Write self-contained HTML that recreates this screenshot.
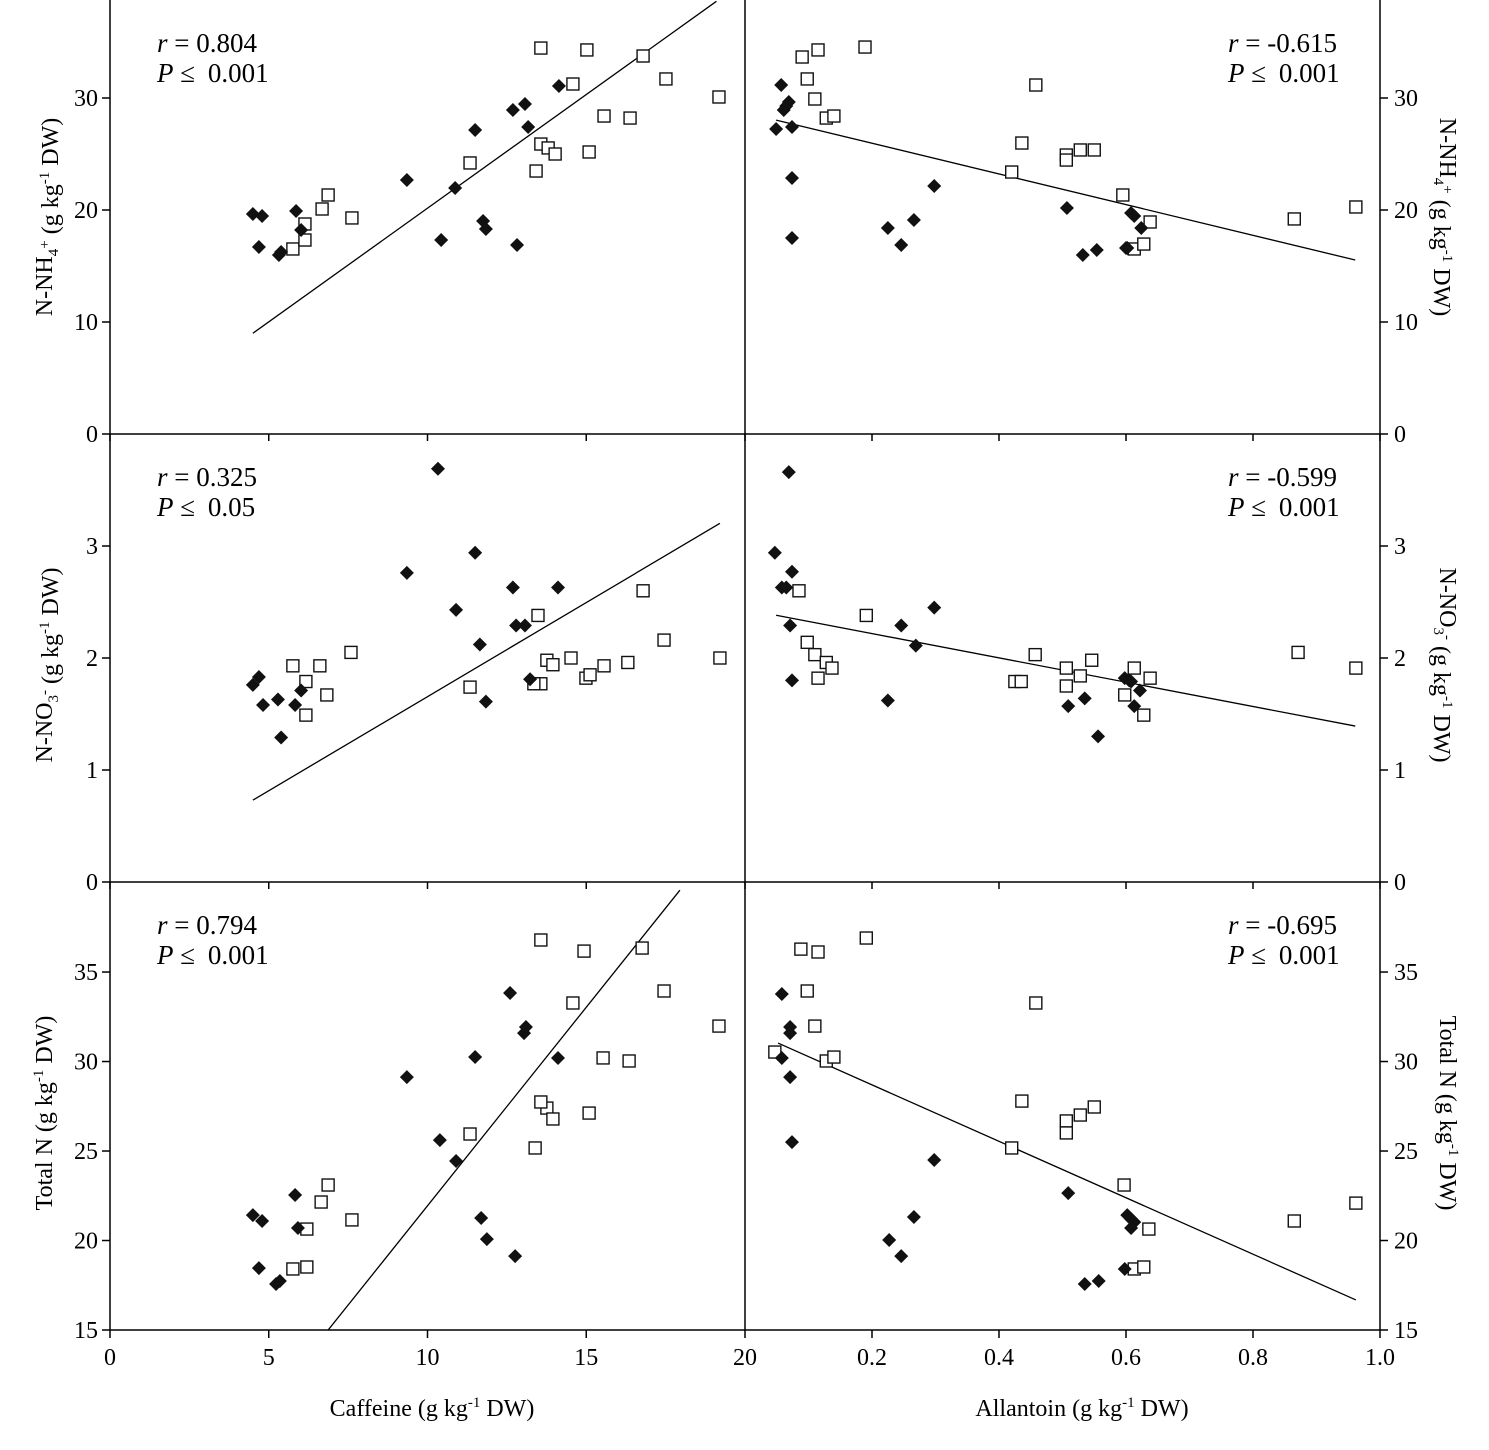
<!DOCTYPE html>
<html><head><meta charset="utf-8"><style>
html,body{margin:0;padding:0;background:#fff;}
svg{display:block;font-family:"Liberation Serif",serif;}
</style></head><body>
<svg id="c" width="1489" height="1450" viewBox="0 0 1489 1450" xmlns="http://www.w3.org/2000/svg"></svg>
<script>
// ---- data ----
const nh4CafDiamX=[4.50,4.79,4.69,5.86,6.02,5.32,5.39,9.35,10.43,10.87,11.50,11.75,11.84,12.69,12.82,13.07,13.17,14.14];
const nh4CafDiamY=[19.64,19.46,16.70,19.91,18.21,15.98,16.25,22.68,17.32,21.96,27.14,19.02,18.30,28.93,16.88,29.46,27.41,31.07];
const nh4CafSqX=[5.76,6.14,6.14,6.68,6.87,7.62,11.34,13.42,13.57,13.80,14.02,14.58,15.09,15.02,15.56,16.38,16.79,17.51,19.18,13.57];
const nh4CafSqY=[16.52,17.32,18.75,20.09,21.34,19.29,24.20,23.48,25.89,25.54,25.00,31.25,25.18,34.29,28.39,28.21,33.75,31.70,30.09,34.46];
const nh4AllDiamX=[.049,.057,.061,.065,.069,.074,.074,.074,.225,.246,.266,.298,.507,.532,.554,.600,.608,.613,.624,.602];
const nh4AllDiamY=[27.23,31.16,28.93,29.29,29.64,27.41,22.86,17.50,18.39,16.88,19.11,22.14,20.18,15.98,16.43,16.61,19.73,19.46,18.39,16.61];
const nh4AllSqX=[.090,.098,.115,.110,.128,.140,.189,.420,.436,.458,.506,.506,.528,.550,.595,.613,.628,.638,.865,.962];
const nh4AllSqY=[33.66,31.70,34.29,29.91,28.21,28.39,34.55,23.39,25.98,31.16,24.91,24.46,25.36,25.36,21.34,16.52,16.96,18.93,19.20,20.27];

const no3CafDiamX=[4.50,4.69,4.82,5.29,5.39,5.83,6.02,9.35,10.33,10.90,11.50,11.65,11.84,12.69,12.79,13.07,13.23,14.11];
const no3CafDiamY=[1.76,1.83,1.58,1.63,1.29,1.58,1.71,2.76,3.69,2.43,2.94,2.12,1.61,2.63,2.29,2.29,1.81,2.63];
const no3CafSqX=[5.76,6.17,6.17,6.61,6.83,7.59,11.34,13.48,13.57,13.76,13.95,14.52,14.99,15.12,15.56,16.31,16.79,17.45,19.21,13.35];
const no3CafSqY=[1.93,1.79,1.49,1.93,1.67,2.05,1.74,2.38,1.77,1.98,1.94,2.00,1.82,1.85,1.93,1.96,2.60,2.16,2.00,1.77];
const no3AllDiamX=[.047,.058,.065,.069,.071,.074,.074,.225,.246,.269,.298,.509,.535,.556,.598,.608,.613,.622,.605];
const no3AllDiamY=[2.94,2.63,2.63,3.66,2.29,2.77,1.80,1.62,2.29,2.11,2.45,1.57,1.64,1.30,1.82,1.79,1.57,1.71,1.80];
const no3AllSqX=[.085,.098,.110,.115,.128,.137,.191,.425,.435,.457,.506,.506,.528,.546,.598,.613,.628,.638,.871,.962];
const no3AllSqY=[2.60,2.14,2.03,1.82,1.96,1.91,2.38,1.79,1.79,2.03,1.91,1.75,1.84,1.98,1.67,1.91,1.49,1.82,2.05,1.91];

const totCafDiamX=[4.50,4.79,4.69,5.23,5.35,5.83,5.92,9.35,10.39,10.90,11.50,11.69,11.87,12.60,12.76,13.04,13.10,14.11];
const totCafDiamY=[21.42,21.09,18.46,17.57,17.74,22.54,20.70,29.13,25.61,24.44,30.25,21.26,20.08,33.83,19.13,31.59,31.93,30.20];
const totCafSqX=[5.76,6.20,6.20,6.65,6.87,7.62,11.34,13.39,13.57,13.76,13.95,14.58,14.93,15.09,15.53,16.35,16.76,17.45,19.18,13.57];
const totCafSqY=[18.41,18.52,20.64,22.15,23.10,21.15,25.95,25.17,36.79,27.40,26.79,33.27,36.17,27.12,30.20,30.03,36.34,33.94,31.98,27.74];
const totAllDiamX=[.058,.058,.071,.071,.071,.074,.227,.246,.266,.298,.509,.535,.557,.598,.602,.608,.613,.608];
const totAllDiamY=[33.77,30.20,31.93,31.59,29.13,25.50,20.03,19.13,21.31,24.50,22.65,17.57,17.74,18.41,21.42,21.20,21.03,20.70];
const totAllSqX=[.047,.088,.098,.115,.110,.128,.140,.191,.420,.436,.458,.506,.506,.528,.550,.597,.613,.628,.636,.865,.962];
const totAllSqY=[30.53,36.28,33.94,36.12,31.98,30.03,30.25,36.90,25.17,27.79,33.27,26.68,26.01,27.01,27.46,23.10,18.41,18.52,20.64,21.09,22.09];

// regression: [xStart, xEnd, slope, intercept]
const fitNh4Caf=[4.5,19.1,2.03,-0.14];
const fitNh4All=[0.049,0.961,-13.7,28.7];
const fitNo3Caf=[4.5,19.21,0.168,-0.025];
const fitNo3All=[0.049,0.961,-1.085,2.435];
const fitTotCaf=[6.87,17.95,2.218,-0.24];
const fitTotAll=[0.052,0.962,-15.77,31.85];

const stats=[["0.804","0.001"],["0.325","0.05"],["0.794","0.001"],["-0.615","0.001"],["-0.599","0.001"],["-0.695","0.001"]];
const ticksCaf=[0,5,10,15,20];
const ticksAll=[0.2,0.4,0.6,0.8,1.0];
const ticksNh4=[0,10,20,30];
const ticksNo3=[0,1,2,3];
const ticksTot=[15,20,25,30,35];

// ---- drawing ----
const S="http://www.w3.org/2000/svg";
const svg=document.getElementById('c');
function mk(t,a,p){const e=document.createElementNS(S,t);for(const k in a)e.setAttribute(k,a[k]);(p||svg).appendChild(e);return e;}
const L0=110,L1=745,R1=1380;
const rows=[{top:0,bot:434,y0:0,y1:38.75},{top:434,bot:882,y0:0,y1:4.0},{top:882,bot:1330,y0:15,y1:40.03}];
const cols=[{x0px:L0,x1px:L1,x0:0,x1:20},{x0px:L1,x1px:R1,x0:0,x1:1.0}];
function sx(c,v){return c.x0px+(v-c.x0)/(c.x1-c.x0)*(c.x1px-c.x0px);}
function sy(r,v){return r.bot-(v-r.y0)/(r.y1-r.y0)*(r.bot-r.top);}

const defs=mk('defs',{});
const cp=mk('clipPath',{id:'clipall'},defs);mk('rect',{x:L0,y:0,width:R1-L0,height:1330},cp);

const axes=mk('g',{stroke:'#000','stroke-width':1.5,fill:'none'});


mk('line',{x1:L0,y1:0,x2:L0,y2:1330},axes);
mk('line',{x1:L1,y1:0,x2:L1,y2:1330},axes);
mk('line',{x1:R1,y1:0,x2:R1,y2:1330},axes);
rows.forEach(r=>mk('line',{x1:L0,y1:r.bot,x2:R1,y2:r.bot},axes));

ticksCaf.forEach(t=>{const x=sx(cols[0],t);mk('line',{x1:x,y1:1330,x2:x,y2:1338},axes);
 rows.slice(0,2).forEach(r=>mk('line',{x1:x,y1:r.bot,x2:x,y2:r.bot+7},axes));
 const tx=mk('text',{x:x,y:1365,'font-size':24,'text-anchor':'middle'});tx.textContent=t;
 });
ticksAll.forEach(t=>{const x=sx(cols[1],t);mk('line',{x1:x,y1:1330,x2:x,y2:1338},axes);
 rows.slice(0,2).forEach(r=>mk('line',{x1:x,y1:r.bot,x2:x,y2:r.bot+7},axes));
 const tx=mk('text',{x:x,y:1365,'font-size':24,'text-anchor':'middle'});tx.textContent=t.toFixed(1);
 });

[ticksNh4,ticksNo3,ticksTot].forEach((tk,i)=>{const r=rows[i];tk.forEach(t=>{const y=sy(r,t);
 mk('line',{x1:L0-8,y1:y,x2:L0,y2:y},axes);mk('line',{x1:R1,y1:y,x2:R1+8,y2:y},axes);
 const a=mk('text',{x:L0-12,y:y+8,'font-size':24,'text-anchor':'end'});a.textContent=t;
 
 const b=mk('text',{x:R1+14,y:y+8,'font-size':24}); b.textContent=t;
 });});

function diamond(g,x,y){mk('path',{d:`M${x} ${y-7}L${x+7} ${y}L${x} ${y+7}L${x-7} ${y}Z`,fill:'#111'},g);}
function square(g,x,y){mk('rect',{x:x-6,y:y-6,width:12,height:12,fill:'#fff',stroke:'#111','stroke-width':1.4},g);}
const panels=[
 [0,0,nh4CafDiamX,nh4CafDiamY,nh4CafSqX,nh4CafSqY,fitNh4Caf,0],
 [0,1,nh4AllDiamX,nh4AllDiamY,nh4AllSqX,nh4AllSqY,fitNh4All,3],
 [1,0,no3CafDiamX,no3CafDiamY,no3CafSqX,no3CafSqY,fitNo3Caf,1],
 [1,1,no3AllDiamX,no3AllDiamY,no3AllSqX,no3AllSqY,fitNo3All,4],
 [2,0,totCafDiamX,totCafDiamY,totCafSqX,totCafSqY,fitTotCaf,2],
 [2,1,totAllDiamX,totAllDiamY,totAllSqX,totAllSqY,fitTotAll,5]];
panels.forEach(p=>{const r=rows[p[0]],c=cols[p[1]];
 const g=mk('g',{'clip-path':'url(#clipall)'});
 
 
 const f=p[6];
 const ln=mk('line',{x1:sx(c,f[0]),y1:sy(r,f[2]*f[0]+f[3]),x2:sx(c,f[1]),y2:sy(r,f[2]*f[1]+f[3]),stroke:'#000','stroke-width':1.3},g);
 
 
 p[4].forEach((v,i)=>square(g,sx(c,v),sy(r,p[5][i])));
 p[2].forEach((v,i)=>diamond(g,sx(c,v),sy(r,p[3][i])));
 const st=stats[p[7]];const ax=p[1]===0?157:1228;
 const t1=mk('text',{x:ax,y:r.top+52,'font-size':27});
 t1.innerHTML='<tspan font-style="italic">r</tspan> = '+st[0];
 
 const t2=mk('text',{x:ax,y:r.top+82,'font-size':27});
 t2.innerHTML='<tspan font-style="italic">P</tspan> ≤ <tspan dx="6">'+st[1]+'</tspan>';
 
});

function ytitle(x,yc,rot,html,name){const t=mk('text',{x:0,y:0,'font-size':24,'text-anchor':'middle',transform:`translate(${x},${yc}) rotate(${rot})`});t.innerHTML=html;
 }
const sup=(s)=>`<tspan dy="-9" font-size="15">${s}</tspan><tspan dy="9"> </tspan>`;
const sub=(s)=>`<tspan dy="6" font-size="15">${s}</tspan><tspan dy="-6"></tspan>`;
ytitle(52,217,-90,'N-NH'+sub('4')+sup('+')+'(g kg'+sup('-1')+'DW)','y-axis-title-nh4');
ytitle(52,665,-90,'N-NO'+sub('3')+sup('-')+'(g kg'+sup('-1')+'DW)','y-axis-title-no3');
ytitle(52,1113,-90,'Total N (g kg'+sup('-1')+'DW)','y-axis-title-total-n');
ytitle(1440,217,90,'N-NH'+sub('4')+sup('+')+'(g kg'+sup('-1')+'DW)','y-axis-title-nh4-right');
ytitle(1440,665,90,'N-NO'+sub('3')+sup('-')+'(g kg'+sup('-1')+'DW)','y-axis-title-no3-right');
ytitle(1440,1113,90,'Total N (g kg'+sup('-1')+'DW)','y-axis-title-total-n-right');
const xt1=mk('text',{x:432,y:1416,'font-size':24,'text-anchor':'middle'});xt1.innerHTML='Caffeine (g kg'+sup('-1')+'DW)';

const xt2=mk('text',{x:1082,y:1416,'font-size':24,'text-anchor':'middle'});xt2.innerHTML='Allantoin (g kg'+sup('-1')+'DW)';

</script>
</body></html>
